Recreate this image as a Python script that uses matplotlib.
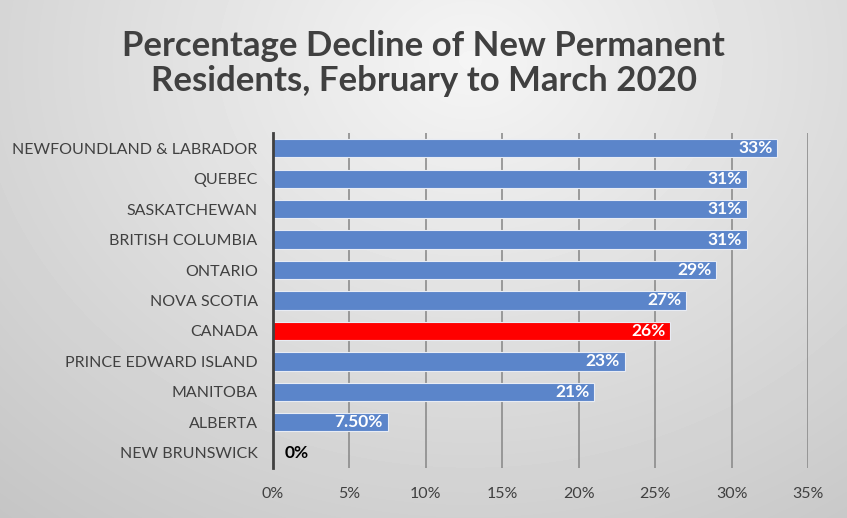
import numpy as np
import matplotlib.pyplot as plt
from matplotlib.ticker import FuncFormatter

# Data (top to bottom as shown)
provinces = ["NEWFOUNDLAND & LABRADOR", "QUEBEC", "SASKATCHEWAN", "BRITISH COLUMBIA",
             "ONTARIO", "NOVA SCOTIA", "CANADA", "PRINCE EDWARD ISLAND", "MANITOBA",
             "ALBERTA", "NEW BRUNSWICK"]
decline = [0.33, 0.31, 0.31, 0.31, 0.29, 0.27, 0.26, 0.23, 0.21, 0.075, 0.0]
value_labels = ["33%", "31%", "31%", "31%", "29%", "27%", "26%", "23%", "21%", "7.50%", "0%"]

plt.rcParams['font.family'] = ['Lato', 'DejaVu Sans']

fig = plt.figure(figsize=(8.47, 5.18), dpi=100)

# radial gradient background
bg = fig.add_axes([0, 0, 1, 1], zorder=-10)
yy, xx = np.mgrid[0:518, 0:847]
r = np.sqrt(((xx - 470) / 847.0) ** 2 + ((yy - 60) / 700.0) ** 2)
shade = np.clip(0.96 - 0.22 * r, 0.74, 0.96)
bg.imshow(shade, cmap='gray', vmin=0, vmax=1, aspect='auto', interpolation='bilinear')
bg.axis('off')

ax = fig.add_axes([273 / 847, 1 - 468 / 518, (808 - 273) / 847, (468 - 133) / 518])
ax.set_facecolor('none')

y = np.arange(len(provinces))
colors = ['#FF0000' if p == "CANADA" else '#5B85CA' for p in provinces]
ax.barh(y, decline, height=0.6, color=colors, edgecolor='#E8ECF4', linewidth=0.8, zorder=3)

for yi, v, lab in zip(y, decline, value_labels):
    if v > 0:
        ax.text(v - 0.003, yi, lab, ha='right', va='center', color='white',
                fontsize=12.5, fontweight='bold', zorder=4)
    else:
        ax.text(0.0075, yi, lab, ha='left', va='center', color='black',
                fontsize=12.5, fontweight='bold', zorder=4)

ax.set_xlim(0, 0.35)
ax.set_ylim(len(provinces) - 0.5, -0.5)
ax.set_xticks(np.arange(0, 0.36, 0.05))
ax.xaxis.set_major_formatter(FuncFormatter(lambda v, p: f"{v * 100:.0f}%"))
ax.set_yticks(y)
ax.set_yticklabels(provinces)
ax.tick_params(axis='both', length=0, labelsize=11.5, colors='#404040')
ax.tick_params(axis='x', pad=14)
ax.tick_params(axis='y', pad=11)
ax.grid(axis='x', color='#8C8C8C', linewidth=1.2, zorder=0)
for s in ['top', 'right', 'bottom']:
    ax.spines[s].set_visible(False)
ax.spines['left'].set_color('#404040')
ax.spines['left'].set_linewidth(2)
ax.spines['left'].set_zorder(5)

fig.text(0.5, 0.877, "Percentage Decline of New Permanent\nResidents, February to March 2020",
         ha='center', va='center', fontsize=25, fontweight='bold', color='#404040',
         linespacing=1.1)

plt.savefig("out.png", dpi=100)
plt.close()
